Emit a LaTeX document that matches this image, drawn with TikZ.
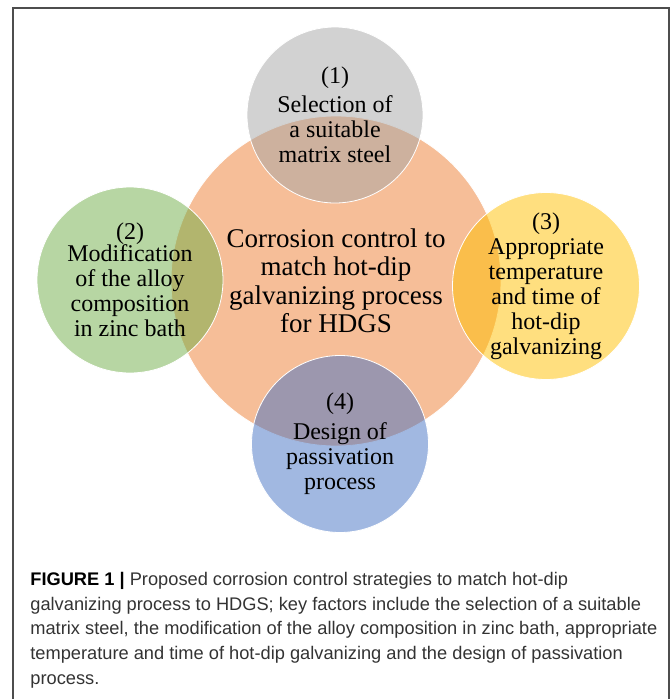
\documentclass[tikz,border=0pt]{standalone}
\usepackage{fontspec}
\setmainfont{Liberation Serif}
\setsansfont{Liberation Sans}

\definecolor{ofcorange}{HTML}{ED7D31}
\definecolor{ofcgray}{HTML}{A5A5A5}
\definecolor{ofcgreen}{HTML}{70AD47}
\definecolor{ofcyellow}{HTML}{FFC000}
\definecolor{ofcblue}{HTML}{4472C4}
\definecolor{framegray}{HTML}{4D4D4D}
\definecolor{captext}{HTML}{333333}

\begin{document}
\begin{tikzpicture}[x=1pt, y=-1pt,
    every node/.style = {shape=circle, draw=white, line width=0.8pt,
    align=center, inner sep=0pt, fill opacity=0.5, text opacity=1,
    font=\fontsize{24}{25}\selectfont},
    corange/.style={fill=ofcorange, minimum size=330pt,
    font=\fontsize{27}{28.5}\selectfont},
    cgray/.style={fill=ofcgray, minimum size=176pt},
    cgreen/.style={fill=ofcgreen, minimum size=186pt},
    cyellow/.style={fill=ofcyellow, minimum size=182pt},
    cblue/.style={fill=ofcblue, minimum size=177pt},
    capnode/.style={shape=rectangle, draw=none, fill=none, fill opacity=1,
    align=left, anchor=base west, text=captext,
    font=\sffamily\fontsize{18.25}{24.6}\selectfont}]
    \useasboundingbox (0,0) rectangle (672,699);
    \draw[framegray, line width=1.2pt] (13,699) |- (669,8) -- (669,699);
    \node[corange] (0) at (336,281) {Corrosion control to\\match hot-dip\\galvanizing process\\for HDGS};
    \node[cgray] (1) at (335,115) {(1)\\[4pt]Selection of\\a suitable\\matrix steel};
    \node[cgreen] (2) at (130,280) {(2)\\[-3pt]Modification\\of the alloy\\composition\\in zinc bath};
    \node[cyellow] (3) at (546,286) {(3)\\Appropriate\\temperature\\and time of\\hot-dip\\galvanizing};
    \node[cblue] (4) at (340,444) {(4)\\[5pt]Design of\\passivation\\process};
    % caption (base anchor sits on the last line)
    \node[capnode] (cap) at (30,684) {\textcolor{black}{\textbf{FIGURE 1 |}} Proposed corrosion control strategies to match hot-dip\\
        galvanizing process to HDGS; key factors include the selection of a suitable\\
        matrix steel, the modification of the alloy composition in zinc bath, appropriate\\
        temperature and time of hot-dip galvanizing and the design of passivation\\
        process.};
\end{tikzpicture}
\end{document}
